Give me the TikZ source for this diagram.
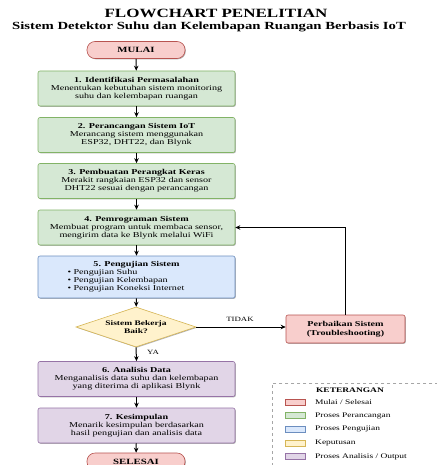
\documentclass[tikz,border=0pt]{standalone}
\usepackage{fontspec}
\setmainfont{Liberation Serif}[FakeStretch=1.35]
\usetikzlibrary{shapes.geometric,arrows.meta,shadows}
\definecolor{redF}{HTML}{F8CECC}\definecolor{redD}{HTML}{B85450}
\definecolor{greenF}{HTML}{D5E8D4}\definecolor{greenD}{HTML}{82B366}
\definecolor{blueF}{HTML}{DAE8FC}\definecolor{blueD}{HTML}{6C8EBF}
\definecolor{yelF}{HTML}{FFF2CC}\definecolor{yelD}{HTML}{D6B656}
\definecolor{purF}{HTML}{E1D5E7}\definecolor{purD}{HTML}{9673A6}
\tikzset{
  shad/.style={drop shadow={shadow xshift=0.8pt,shadow yshift=-0.8pt,opacity=0.3,fill=black}},
  proc/.style={rectangle, rounded corners=2pt, minimum width=197pt, minimum height=35pt,
    align=center, draw, line width=0.6pt, inner sep=1pt, shad,
    font=\fontsize{7.5}{8}\selectfont},
  greenbox/.style={proc, fill=greenF, draw=greenD},
  purbox/.style={proc, fill=purF, draw=purD},
  terminal/.style={rectangle, rounded corners=8pt, minimum width=98pt, minimum height=17pt,
    draw=redD, fill=redF, line width=0.6pt, shad, font=\bfseries\fontsize{8}{9}\selectfont},
  arr/.style={-{Stealth[length=5pt,width=4.5pt]}, line width=1pt},
  lbl/.style={font=\fontsize{6.5}{7}\selectfont, inner sep=1pt},
  swatch/.style={rectangle, minimum width=20pt, minimum height=6pt, inner sep=0pt, line width=0.6pt},
  legtext/.style={anchor=west, font=\fontsize{7}{8}\selectfont, inner sep=0pt}
}
\begin{document}
\begin{tikzpicture}[x=1pt,y=-1pt]
\fill[white] (0,0) rectangle (436,465);
\useasboundingbox (0,0) rectangle (436,465);

\node[font=\bfseries\fontsize{12.6}{14}\selectfont] (title) at (216,13) {FLOWCHART PENELITIAN};
\node[font=\bfseries\fontsize{10.9}{12}\selectfont] (sub) at (209,27) {Sistem Detektor Suhu dan Kelembapan Ruangan Berbasis IoT};

\node[terminal] (start) at (136,50) {MULAI};

\node[greenbox] (p1) at (136.5,88.5) {\textbf{1. Identifikasi Permasalahan}\\Menentukan kebutuhan sistem monitoring\\suhu dan kelembapan ruangan};
\node[greenbox] (p2) at (136.5,135) {\textbf{2. Perancangan Sistem IoT}\\Merancang sistem menggunakan\\ESP32, DHT22, dan Blynk};
\node[greenbox] (p3) at (136.5,181) {\textbf{3. Pembuatan Perangkat Keras}\\Merakit rangkaian ESP32 dan sensor\\DHT22 sesuai dengan perancangan};
\node[greenbox] (p4) at (136.5,227.5) {\textbf{4. Pemrograman Sistem}\\Membuat program untuk membaca sensor,\\mengirim data ke Blynk melalui WiFi};
\node[proc, fill=blueF, draw=blueD, minimum height=42pt] (p5) at (136.5,277)
  {\parbox{190pt}{\centering\textbf{5. Pengujian Sistem}\par\raggedright\leftskip=26pt
   • Pengujian Suhu\\• Pengujian Kelembapan\\• Pengujian Koneksi Internet}};

\node[diamond, minimum width=120pt, minimum height=40pt, inner sep=0pt, aspect=3,
  fill=yelF, draw=yelD, line width=0.6pt, shad, align=center,
  font=\bfseries\fontsize{7}{8}\selectfont] (dec) at (136,327) {Sistem Bekerja\\Baik?};

\node[rectangle, rounded corners=2pt, minimum width=119pt, minimum height=28pt,
  fill=redF, draw=redD, line width=0.6pt, shad, align=center,
  font=\bfseries\fontsize{7.5}{8.5}\selectfont] (fix) at (345.5,329) {Perbaikan Sistem\\(Troubleshooting)};

\node[purbox] (p6) at (136.5,379) {\textbf{6. Analisis Data}\\Menganalisis data suhu dan kelembapan\\yang diterima di aplikasi Blynk};
\node[purbox] (p7) at (136.5,425.5) {\textbf{7. Kesimpulan}\\Menarik kesimpulan berdasarkan\\hasil pengujian dan analisis data};

\node[terminal] (stop) at (136,461.5) {SELESAI};

\draw[arr] (start) -- (p1);
\draw[arr] (p1) -- (p2);
\draw[arr] (p2) -- (p3);
\draw[arr] (p3) -- (p4);
\draw[arr] (p4) -- (p5);
\draw[arr] (p5) -- (dec);
\draw[arr] (dec.south) -- (p6.north);
\draw[arr] (p6) -- (p7);
\draw[arr] (p7) -- (stop);
\draw[arr] (dec.east) -- (dec.east -| fix.west);
\draw[arr] (fix.north) |- (p4.east);

\node[lbl] (tidak) at (240,319) {TIDAK};
\node[lbl] (ya) at (153,352) {YA};

% legend
\node[draw=gray!70, dashed, line width=0.5pt, anchor=north west, minimum width=180pt, minimum height=100pt, inner sep=0pt] (leg) at (272,383) {};
\node[font=\bfseries\fontsize{7}{8}\selectfont] (legt) at (350,390) {KETERANGAN};
\node[swatch, fill=redF, draw=redD] (s1) at (295,402) {};
\node[swatch, fill=greenF, draw=greenD] (s2) at (295,415.5) {};
\node[swatch, fill=blueF, draw=blueD] (s3) at (295,429) {};
\node[swatch, fill=yelF, draw=yelD] (s4) at (295,443) {};
\node[swatch, fill=purF, draw=purD] (s5) at (295,456.5) {};
\node[legtext] (t1) at (315,402) {Mulai / Selesai};
\node[legtext] (t2) at (315,415.5) {Proses Perancangan};
\node[legtext] (t3) at (315,429) {Proses Pengujian};
\node[legtext] (t4) at (315,443) {Keputusan};
\node[legtext] (t5) at (315,456.5) {Proses Analisis / Output};
\end{tikzpicture}
\end{document}
